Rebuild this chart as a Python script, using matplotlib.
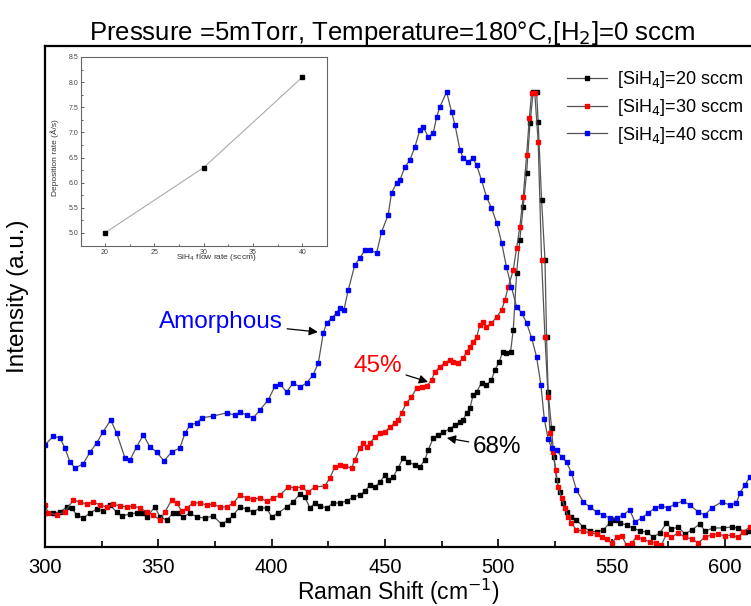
import matplotlib
matplotlib.use("Agg")
import matplotlib.pyplot as plt
from matplotlib.ticker import MultipleLocator

plt.rcParams['font.family'] = ['Liberation Sans', 'DejaVu Sans']

# Raman spectra (arbitrary units)
x20 = [300.0, 303.7, 306.6, 309.6, 311.8, 314.0, 316.9, 319.9, 322.8, 325.7, 328.7, 331.6, 333.8,
       337.5, 340.4, 342.7, 344.9, 348.5, 350.7, 353.7, 356.6, 358.8, 361.0, 364.0, 366.9, 370.6,
       374.2, 377.9, 380.9, 383.1, 386.0, 389.0, 391.9, 394.8, 397.8, 400.0, 402.9, 406.6, 409.5,
       412.5, 414.7, 416.9, 419.1, 421.3, 424.3, 427.2, 430.1, 433.1, 436.0, 439.0, 441.2, 443.4,
       445.6, 447.8, 450.0, 451.4, 453.6, 455.8, 458.0, 460.3, 463.2, 465.4, 467.6, 469.1, 471.3,
       473.5, 475.7, 478.6, 480.9, 483.1, 484.5, 486.0, 487.5, 488.9, 490.4, 492.6, 494.8, 497.0,
       498.5, 500.4, 501.9, 503.6, 505.4, 506.6, 508.1, 509.5, 511.0, 512.5, 514.0, 515.4, 516.9,
       517.6, 519.1, 520.6, 521.3, 522.0, 523.5, 524.5, 525.7, 527.2, 528.6, 530.1, 532.3, 534.5,
       537.5, 540.4, 543.4, 546.3, 549.2, 551.4, 553.6, 556.6, 559.5, 562.5, 565.4, 568.3, 571.3,
       574.2, 576.4, 579.4, 582.3, 585.3, 588.9, 591.2, 594.8, 599.2, 602.9, 605.8, 608.8, 611.0]
y20 = [34, 34, 35, 40, 39, 32, 29, 34, 38, 36, 42, 35, 31,
       33, 34, 34, 30, 40, 30, 27, 34, 34, 30, 34, 30, 29,
       31, 23, 27, 32, 40, 38, 35, 39, 39, 30, 34, 40, 45,
       53, 50, 39, 44, 41, 39, 44, 44, 46, 50, 52, 56, 62,
       60, 65, 72, 67, 70, 79, 89, 85, 82, 80, 87, 97, 109,
       112, 115, 118, 122, 125, 127, 134, 139, 152, 155, 164, 162, 167,
       177, 185, 195, 194, 195, 217, 274, 307, 340, 374, 424, 455, 455,
       425, 347, 287, 210, 155, 119, 90, 67, 55, 44, 35, 30, 27,
       20, 16, 15, 17, 24, 27, 24, 22, 19, 16, 15, 10, 14,
       24, 18, 20, 13, 17, 23, 16, 19, 19, 20, 19, 15, 16]

x30 = [300.0, 301.5, 305.1, 308.8, 312.5, 315.4, 318.4, 321.3, 324.3, 327.2, 330.1, 333.1, 336.0,
       339.0, 341.9, 344.9, 347.8, 350.7, 352.9, 355.9, 358.1, 360.3, 362.5, 365.4, 368.4, 371.3,
       374.2, 377.2, 380.1, 383.1, 386.0, 389.0, 391.9, 394.8, 397.8, 400.7, 403.7, 407.3, 410.3,
       413.2, 416.1, 419.1, 423.5, 425.7, 427.9, 430.1, 432.3, 435.3, 436.7, 439.0, 440.4, 441.9,
       443.4, 445.6, 447.8, 450.0, 452.2, 454.4, 455.8, 457.3, 459.5, 461.7, 464.0, 466.2, 468.4,
       470.6, 472.0, 474.2, 476.4, 478.6, 480.1, 482.3, 484.5, 486.0, 487.5, 488.9, 490.4, 491.9,
       493.4, 494.8, 497.0, 499.3, 501.5, 502.9, 504.4, 506.6, 508.1, 509.5, 511.0, 512.5, 513.7,
       514.7, 516.1, 517.6, 519.1, 520.6, 522.0, 522.8, 524.2, 525.4, 526.4, 527.9, 529.4, 530.8,
       532.3, 534.5, 537.5, 540.4, 543.4, 545.6, 547.8, 550.0, 552.2, 554.4, 556.6, 558.8, 561.0,
       563.9, 566.9, 569.8, 572.0, 574.2, 576.4, 579.4, 582.3, 585.3, 588.2, 591.2, 594.1, 597.0,
       600.0, 602.9, 605.8, 608.0, 611.0]
y30 = [42, 34, 32, 35, 47, 45, 43, 45, 42, 40, 43, 41, 40,
       41, 39, 35, 32, 27, 35, 47, 44, 36, 39, 44, 44, 42,
       43, 40, 40, 44, 52, 49, 48, 49, 46, 49, 52, 60, 59,
       60, 55, 60, 61, 69, 80, 82, 81, 79, 87, 99, 104, 100,
       104, 110, 114, 115, 120, 124, 127, 134, 144, 150, 159, 160, 161,
       167, 175, 180, 184, 187, 185, 184, 189, 195, 200, 205, 210, 222,
       225, 220, 224, 230, 237, 247, 260, 277, 299, 320, 350, 392, 429,
       454, 454, 405, 287, 210, 150, 114, 95, 77, 60, 49, 39, 30,
       24, 17, 16, 14, 13, 10, 8, 4, 10, 11, 2, 4, 10,
       8, 5, 4, 2, 13, 10, 14, 10, 8, 4, 10, 12, 13,
       11, 12, 10, 15, 20]

x40 = [300.0, 303.7, 306.6, 308.8, 311.0, 313.2, 316.8, 319.9, 322.8, 325.6, 329.0, 331.6, 335.3,
       337.5, 340.4, 343.4, 346.3, 349.3, 352.5, 355.9, 359.5, 361.8, 364.0, 366.9, 369.1, 374.2,
       380.1, 383.8, 386.0, 389.0, 391.9, 394.8, 398.5, 401.5, 403.7, 406.6, 409.5, 412.5, 415.4,
       418.3, 420.6, 422.8, 424.3, 426.5, 428.7, 430.1, 431.9, 433.8, 436.7, 438.9, 441.2, 443.4,
       446.3, 448.5, 451.4, 452.9, 455.1, 456.6, 458.8, 461.0, 463.2, 465.4, 466.9, 469.1, 471.3,
       472.8, 474.2, 477.2, 479.4, 480.9, 483.1, 484.5, 486.7, 488.7, 490.4, 492.6, 494.8, 497.0,
       499.3, 501.5, 503.6, 505.8, 508.1, 510.3, 512.5, 514.7, 516.9, 518.8, 520.3, 522.0, 523.5,
       525.7, 527.9, 530.1, 532.3, 534.5, 537.5, 540.4, 543.4, 546.3, 549.2, 552.2, 555.1, 558.0,
       560.3, 563.2, 566.2, 569.1, 572.0, 575.0, 577.9, 581.6, 584.5, 588.2, 591.2, 594.1, 598.5,
       602.2, 605.1, 606.6, 608.8, 611.0]
y40 = [102, 111, 109, 99, 85, 79, 83, 95, 104, 115, 127, 114, 89,
       87, 100, 112, 100, 95, 86, 95, 99, 114, 122, 124, 129, 131,
       134, 132, 135, 132, 129, 137, 147, 161, 163, 155, 164, 160, 164,
       172, 184, 214, 224, 229, 234, 239, 237, 257, 282, 289, 297, 297,
       294, 315, 332, 354, 364, 367, 380, 387, 400, 417, 420, 410, 414,
       430, 440, 455, 435, 422, 397, 389, 385, 389, 382, 367, 350, 339,
       324, 304, 280, 260, 240, 234, 224, 209, 190, 162, 128, 108, 99,
       97, 90, 85, 74, 57, 45, 40, 35, 32, 29, 29, 32, 37,
       25, 29, 34, 39, 41, 39, 43, 46, 42, 35, 32, 39, 45,
       42, 44, 54, 62, 70]

# inset: deposition rate vs SiH4 flow
flow = [20, 30, 40]
rate = [5.0, 6.3, 8.1]

fig = plt.figure(figsize=(7.51, 6.06), dpi=100)
ax = fig.add_axes([0.0599, 0.0974, 0.9401, 0.8267])

line_col = '#555555'
ax.plot(x20, y20, '-s', color=line_col, lw=0.9, ms=2.2, mfc='black', mec='black',
        label='[SiH$_4$]=20 sccm')
ax.plot(x30, y30, '-s', color=line_col, lw=0.9, ms=2.2, mfc='red', mec='red',
        label='[SiH$_4$]=30 sccm')
ax.plot(x40, y40, '-s', color=line_col, lw=0.9, ms=2.2, mfc='blue', mec='blue',
        label='[SiH$_4$]=40 sccm')

ax.set_xlim(300, 611.5)
ax.set_ylim(0, 501)
ax.set_yticks([])
ax.xaxis.set_major_locator(MultipleLocator(50))
ax.xaxis.set_minor_locator(MultipleLocator(25))
ax.tick_params(axis='x', which='both', direction='in', labelsize=14.5, pad=8)
ax.tick_params(axis='x', which='major', length=6, width=1.2)
ax.tick_params(axis='x', which='minor', length=4, width=1.2)
for s in ['left', 'bottom', 'top']:
    ax.spines[s].set_linewidth(1.6)
ax.spines['right'].set_visible(False)

ax.set_xlabel('Raman Shift (cm$^{-1}$)', fontsize=16.5, labelpad=0)
ax.set_ylabel('Intensity (a.u.)', fontsize=17.5)
ax.yaxis.set_label_coords(-0.022, 0.5)
fig.text(0.522, 0.946, 'Pressure =5mTorr, Temperature=180\u00b0C,[H$_2$]=0 sccm',
         ha='center', va='center', fontsize=18.5)

arrow = dict(arrowstyle='-|>', color='black', lw=0.9, mutation_scale=13, shrinkA=1, shrinkB=0)
ax.annotate('Amorphous', xy=(420.4, 215), xytext=(405, 225), color='blue', fontsize=17.5,
            ha='right', va='center', arrowprops=arrow)
ax.annotate('45%', xy=(469, 165), xytext=(457.5, 181), color='red', fontsize=17.5,
            ha='right', va='center', arrowprops=arrow)
ax.annotate('68%', xy=(477.3, 109), xytext=(488.8, 100), color='black', fontsize=17.5,
            ha='left', va='center', arrowprops=arrow)

fig.legend(loc='upper left', bbox_to_anchor=(0.755, 0.886), frameon=False, fontsize=13,
           handlelength=2.2, handletextpad=0.55, labelspacing=0.38, borderpad=0,
           borderaxespad=0, numpoints=1)

# inset
ins = fig.add_axes([0.108, 0.594, 0.3276, 0.312])
ins.plot(flow, rate, color='#aaaaaa', lw=0.8)
ins.plot(flow, rate, 's', color='black', ms=3)
ins.set_xlim(17.6, 42.5)
ins.set_ylim(4.74, 8.5)
ins.xaxis.set_major_locator(MultipleLocator(5))
ins.xaxis.set_minor_locator(MultipleLocator(2.5))
ins.yaxis.set_major_locator(MultipleLocator(0.5))
ins.yaxis.set_minor_locator(MultipleLocator(0.25))
ins.tick_params(which='both', direction='in', labelsize=5, colors='#444444', pad=2)
ins.tick_params(which='major', length=2.5, width=0.6)
ins.tick_params(which='minor', length=1.5, width=0.6)
for s in ins.spines.values():
    s.set_color('#666666')
    s.set_linewidth(0.8)
ins.set_xlabel('SiH$_4$ flow rate (sccm)', fontsize=6, color='#333333')
ins.xaxis.set_label_coords(0.55, -0.03)
ins.set_ylabel('Deposition rate (\u00c5/s)', fontsize=6, color='#333333')
ins.yaxis.set_label_coords(-0.09, 0.47)

fig.savefig('out.png', dpi=100)
